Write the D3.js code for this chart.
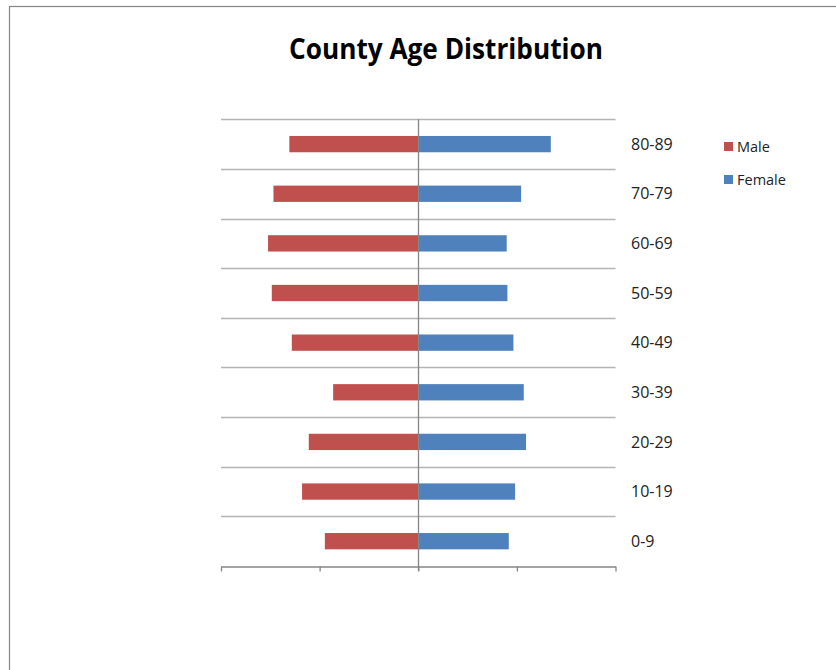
<!DOCTYPE html>
<html>
<head>
<meta charset="utf-8">
<script src="https://cdn.jsdelivr.net/npm/d3@7"></script>
<style>
  body { margin: 0; background: #fff; }
  text { font-family: "Open Sans", "Noto Sans", sans-serif; fill: #222; }
</style>
</head>
<body>
<div id="plot"></div>
<script>
// Age groups, top of chart first
var ageGroups = ["80-89", "70-79", "60-69", "50-59", "40-49", "30-39", "20-29", "10-19", "0-9"];
var maleValues = [1307, 1468, 1523, 1485, 1282, 863, 1110, 1178, 947];
var femaleValues = [1344, 1043, 897, 904, 965, 1070, 1093, 982, 918];
var seriesNames = ["Male", "Female"];
var xTicks = [-2000, -1000, 0, 1000, 2000];

var W = 836, H = 670;
var plot = {left: 221, right: 615.5, top: 119.3, bottom: 566};
var colors = {Male: "#C0504D", Female: "#4F81BD"};

var svg = d3.select("#plot")
	.append("svg")
	.attr("width", W)
	.attr("height", H);

// Chart frame (only top and left edges show in the picture)
svg.append("rect")
	.attr("x", 9.5)
	.attr("y", 6.5)
	.attr("width", 900)
	.attr("height", 900)
	.attr("fill", "none")
	.attr("stroke", "#868686")
	.attr("stroke-width", 1.2);

// Title
svg.append("text")
	.attr("x", 446)
	.attr("y", 59)
	.attr("text-anchor", "middle")
	.attr("textLength", 314)
	.attr("lengthAdjust", "spacingAndGlyphs")
	.style("font-size", "29px")
	.style("font-weight", "bold")
	.style("fill", "#000")
	.text("County Age Distribution");

// Scales
var x = d3.scaleLinear()
	.domain([-2000, 2000])
	.range([plot.left, plot.right]);

var y = d3.scaleBand()
	.domain(ageGroups)
	.range([plot.top, plot.bottom])
	.paddingInner(0)
	.paddingOuter(0);

var barH = 16.3;

// Horizontal gridlines at band boundaries
svg.append("g")
	.selectAll("line")
	.data(ageGroups)
	.enter().append("line")
	.attr("x1", plot.left)
	.attr("x2", plot.right)
	.attr("y1", function(d){ return Math.round(y(d)) + 0.5; })
	.attr("y2", function(d){ return Math.round(y(d)) + 0.5; })
	.attr("stroke", "#b4b4b4")
	.attr("stroke-width", 1.3);

// Rows of data
var rows = ageGroups.map(function(g, i){
	return {group: g, Male: maleValues[i], Female: femaleValues[i]};
});

// Male bars go left
svg.append("g")
	.selectAll("rect")
	.data(rows)
	.enter().append("rect")
	.attr("x", function(d){ return x(-d.Male); })
	.attr("y", function(d){ return y(d.group) + y.bandwidth()/2 - barH/2; })
	.attr("width", function(d){ return x(0) - x(-d.Male); })
	.attr("height", barH)
	.attr("fill", colors.Male);

// Female bars go right
svg.append("g")
	.selectAll("rect")
	.data(rows)
	.enter().append("rect")
	.attr("x", x(0))
	.attr("y", function(d){ return y(d.group) + y.bandwidth()/2 - barH/2; })
	.attr("width", function(d){ return x(d.Female) - x(0); })
	.attr("height", barH)
	.attr("fill", colors.Female);

// Bottom value axis, no labels
var xAxis = svg.append("g")
	.attr("transform", "translate(0," + (Math.round(plot.bottom) + 0.5) + ")")
	.call(d3.axisBottom(x).tickValues(xTicks).tickFormat("").tickSize(5).tickSizeOuter(0));
xAxis.select(".domain").attr("stroke", "#868686").attr("stroke-width", 1.3);
xAxis.selectAll(".tick line").attr("stroke", "#868686").attr("stroke-width", 1.3);

// Vertical axis at zero
svg.append("line")
	.attr("x1", Math.round(x(0)) + 0.5)
	.attr("x2", Math.round(x(0)) + 0.5)
	.attr("y1", plot.top)
	.attr("y2", plot.bottom + 5)
	.attr("stroke", "#868686")
	.attr("stroke-width", 1.3);

// Category labels on the right
svg.append("g")
	.selectAll("text")
	.data(ageGroups)
	.enter().append("text")
	.attr("x", 631)
	.attr("y", function(d){ return y(d) + y.bandwidth()/2; })
	.attr("dy", "0.35em")
	.style("font-size", "16px")
	.text(function(d){ return d; });

// Legend
var legend = svg.append("g")
	.selectAll("g")
	.data(seriesNames)
	.enter().append("g")
	.attr("transform", function(d, i){ return "translate(724," + (147 + i*33) + ")"; });

legend.append("rect")
	.attr("x", 0)
	.attr("y", -5)
	.attr("width", 9)
	.attr("height", 9)
	.attr("fill", function(d){ return colors[d]; });

legend.append("text")
	.attr("x", 13)
	.attr("y", 0)
	.attr("dy", "0.35em")
	.style("font-size", "14.5px")
	.text(function(d){ return d; });
</script>
</body>
</html>
